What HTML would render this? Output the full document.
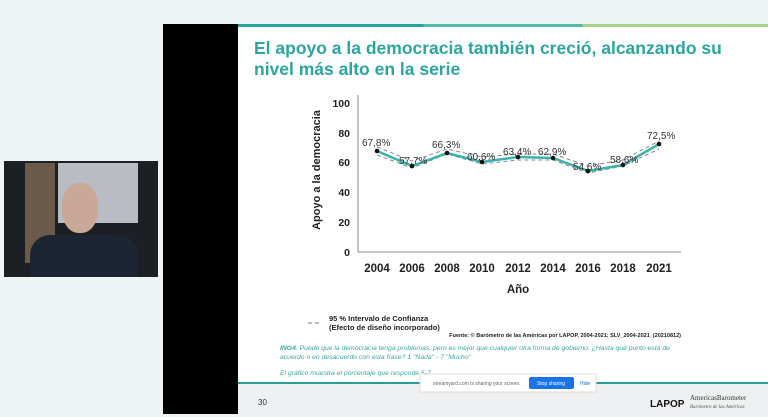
<!DOCTYPE html><html><head><meta charset="utf-8"><style>
body{margin:0;width:768px;height:417px;background:#eef3f4;position:relative;overflow:hidden;font-family:"Liberation Sans",sans-serif}
.a{position:absolute}
</style></head><body>
<div class="a" style="left:4px;top:161px;width:154px;height:116px;background:#1c1f24"></div>
<div class="a" style="left:25px;top:163px;width:30px;height:100px;background:#6b5a4a"></div>
<div class="a" style="left:58px;top:163px;width:80px;height:60px;background:#b9bcc3"></div>
<div class="a" style="left:30px;top:235px;width:108px;height:42px;background:#1d2535;border-radius:20px 20px 0 0"></div>
<div class="a" style="left:62px;top:183px;width:36px;height:50px;background:#c9a898;border-radius:45%"></div>
<div class="a" style="left:163px;top:24px;width:75px;height:390px;background:#000"></div>
<div class="a" style="left:238px;top:24px;width:530px;height:390px;background:#fff"></div>
<div class="a" style="left:238px;top:24px;width:530px;height:3px;background:linear-gradient(90deg,#2aa39c 0 35%,#55b9a8 35% 65%,#a6d48a 65%)"></div>
<div class="a" style="left:238px;top:382px;width:530px;height:31px;background:#eef0f1;border-top:2px solid #2a9c98"></div>
<div class="a" style="left:254px;top:38px;font-size:17.5px;line-height:21px;color:#2aa59f;font-weight:bold">El apoyo a la democracia también creció, alcanzando su<br>nivel más alto en la serie</div>
<svg class="a" style="left:0;top:0" width="768" height="417">
<g font-family="Liberation Sans" font-size="10.5" font-weight="bold" fill="#222">
<line x1="358" y1="95" x2="358" y2="252" stroke="#888"/>
<line x1="358" y1="252" x2="681" y2="252" stroke="#888"/>
<g text-anchor="end"><text x="350" y="107">100</text><text x="350" y="137">80</text><text x="350" y="166">60</text><text x="350" y="196">40</text><text x="350" y="226">20</text><text x="350" y="256">0</text></g>
<g font-size="11.5" text-anchor="middle"><text x="377" y="272">2004</text><text x="412" y="272">2006</text><text x="447" y="272">2008</text><text x="482" y="272">2010</text><text x="518" y="272">2012</text><text x="553" y="272">2014</text><text x="588" y="272">2016</text><text x="623" y="272">2018</text><text x="659" y="272">2021</text>
<text x="518" y="293">Año</text></g>
<text transform="translate(320,170) rotate(-90)" text-anchor="middle" font-size="11">Apoyo a la democracia</text>
<polyline fill="none" stroke="#888" stroke-dasharray="4,3" points="377,147 412,161 447,149 482,157 518,154 553,154 588,166 623,160 659,141"/>
<polyline fill="none" stroke="#888" stroke-dasharray="4,3" points="377,155 412,168 447,154 482,164 518,160 553,160 588,173 623,166 659,149"/>
<polyline fill="none" stroke="#3bb3ad" stroke-width="2.5" points="377,151 412,166 447,153 482,162 518,157 553,158 588,171 623,165 659,144"/>
<g fill="#111"><circle cx="377" cy="151" r="2.3"/><circle cx="412" cy="166" r="2.3"/><circle cx="447" cy="153" r="2.3"/><circle cx="482" cy="162" r="2.3"/><circle cx="518" cy="157" r="2.3"/><circle cx="553" cy="158" r="2.3"/><circle cx="588" cy="171" r="2.3"/><circle cx="623" cy="165" r="2.3"/><circle cx="659" cy="144" r="2.3"/></g>
<g font-weight="normal" font-size="10" fill="#333"><text x="362" y="146">67,8%</text><text x="399" y="164">57,7%</text><text x="432" y="148">66,3%</text><text x="467" y="160">60,6%</text><text x="503" y="155">63,4%</text><text x="538" y="155">62,9%</text><text x="573" y="170">54,6%</text><text x="610" y="163">58,6%</text><text x="647" y="139">72,5%</text></g>
<line x1="308" y1="323" x2="321" y2="323" stroke="#777" stroke-dasharray="4,3"/>
<text x="329" y="321" font-size="7.5">95 % Intervalo de Confianza</text>
<text x="329" y="330" font-size="7.5">(Efecto de diseño incorporado)</text>
<text x="681" y="337" font-size="5.5" text-anchor="end">Fuente: © Barómetro de las Américas por LAPOP, 2004-2021; SLV_2004-2021_(20210812)</text>
</g>
<g font-family="Liberation Sans" font-style="italic" font-size="6.8" fill="#3aa6a0">
<text x="280" y="350"><tspan font-weight="bold">ING4</tspan>. Puede que la democracia tenga problemas, pero es mejor que cualquier otra forma de gobierno. ¿Hasta qué punto está de</text>
<text x="280" y="359">acuerdo o en desacuerdo con esta frase? 1 "Nada" - 7 "Mucho"</text>
<text x="280" y="375">El gráfico muestra el porcentaje que responde 5-7</text>
</g>
<text x="258" y="405" font-family="Liberation Sans" font-size="8" fill="#333">30</text>
<text x="650" y="407" font-family="Liberation Sans" font-size="10" font-weight="bold" fill="#111">LAPOP</text>
<text x="690" y="400" font-family="Liberation Serif" font-size="7" fill="#333">AmericasBarometer</text>
<text x="690" y="408" font-family="Liberation Serif" font-style="italic" font-size="5" fill="#555">Barómetro de las Américas</text>
<rect x="420" y="374" width="176" height="18" fill="#fff" stroke="#ddd"/>
<text x="433" y="385" font-family="Liberation Sans" font-size="5" fill="#666">streamyard.com is sharing your screen.</text>
<rect x="529" y="377" width="45" height="12" rx="2" fill="#1a73e8"/>
<text x="551" y="385" text-anchor="middle" font-family="Liberation Sans" font-size="5" fill="#fff">Stop sharing</text>
<text x="580" y="385" font-family="Liberation Sans" font-size="5" fill="#1a73e8">Hide</text>
</svg>
</body></html>
